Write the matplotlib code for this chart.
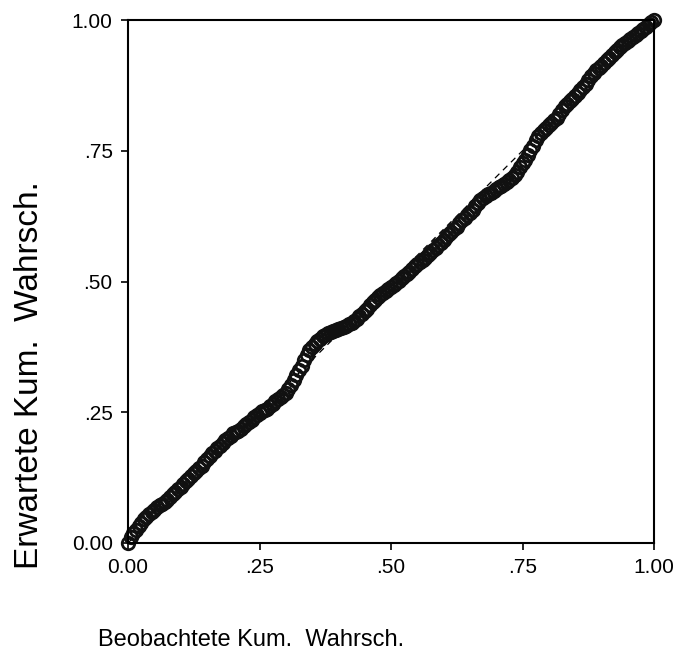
import matplotlib
matplotlib.use("Agg")
import matplotlib.pyplot as plt

plt.rcParams['font.family'] = ['Liberation Sans', 'DejaVu Sans']

# observed cumulative probability
beobachtet = [
    0.000, 0.005, 0.010, 0.015, 0.020, 0.025, 0.030, 0.035, 0.040, 0.045,
    0.050, 0.055, 0.060, 0.065, 0.070, 0.075, 0.080, 0.085, 0.090, 0.095,
    0.100, 0.105, 0.110, 0.115, 0.120, 0.125, 0.130, 0.135, 0.140, 0.145,
    0.150, 0.155, 0.160, 0.165, 0.170, 0.175, 0.180, 0.185, 0.190, 0.195,
    0.200, 0.205, 0.210, 0.215, 0.220, 0.225, 0.230, 0.235, 0.240, 0.245,
    0.250, 0.255, 0.260, 0.265, 0.270, 0.275, 0.280, 0.285, 0.290, 0.295,
    0.300, 0.305, 0.310, 0.315, 0.320, 0.325, 0.330, 0.335, 0.340, 0.345,
    0.350, 0.355, 0.360, 0.365, 0.370, 0.375, 0.380, 0.385, 0.390, 0.395,
    0.400, 0.405, 0.410, 0.415, 0.420, 0.425, 0.430, 0.435, 0.440, 0.445,
    0.450, 0.455, 0.460, 0.465, 0.470, 0.475, 0.480, 0.485, 0.490, 0.495,
    0.500, 0.505, 0.510, 0.515, 0.520, 0.525, 0.530, 0.535, 0.540, 0.545,
    0.550, 0.555, 0.560, 0.565, 0.570, 0.575, 0.580, 0.585, 0.590, 0.595,
    0.600, 0.605, 0.610, 0.615, 0.620, 0.625, 0.630, 0.635, 0.640, 0.645,
    0.650, 0.655, 0.660, 0.665, 0.670, 0.675, 0.680, 0.685, 0.690, 0.695,
    0.700, 0.705, 0.710, 0.715, 0.720, 0.725, 0.730, 0.735, 0.740, 0.745,
    0.750, 0.755, 0.760, 0.765, 0.770, 0.775, 0.780, 0.785, 0.790, 0.795,
    0.800, 0.805, 0.810, 0.815, 0.820, 0.825, 0.830, 0.835, 0.840, 0.845,
    0.850, 0.855, 0.860, 0.865, 0.870, 0.875, 0.880, 0.885, 0.890, 0.895,
    0.900, 0.905, 0.910, 0.915, 0.920, 0.925, 0.930, 0.935, 0.940, 0.945,
    0.950, 0.955, 0.960, 0.965, 0.970, 0.975, 0.980, 0.985, 0.990, 0.995,
    1.000,
]

# expected cumulative probability
erwartet = [
    0.000, 0.012, 0.019, 0.025, 0.032, 0.039, 0.045, 0.050, 0.055, 0.059,
    0.064, 0.068, 0.072, 0.075, 0.079, 0.083, 0.088, 0.093, 0.098, 0.103,
    0.108, 0.113, 0.118, 0.123, 0.128, 0.133, 0.138, 0.143, 0.148, 0.154,
    0.161, 0.167, 0.172, 0.176, 0.181, 0.186, 0.191, 0.196, 0.201, 0.205,
    0.210, 0.213, 0.215, 0.218, 0.223, 0.228, 0.232, 0.236, 0.240, 0.244,
    0.248, 0.252, 0.254, 0.257, 0.261, 0.266, 0.271, 0.276, 0.280, 0.283,
    0.287, 0.294, 0.302, 0.311, 0.321, 0.330, 0.339, 0.349, 0.360, 0.369,
    0.375, 0.381, 0.386, 0.391, 0.395, 0.398, 0.401, 0.403, 0.405, 0.407,
    0.409, 0.411, 0.413, 0.415, 0.418, 0.420, 0.424, 0.429, 0.434, 0.438,
    0.443, 0.448, 0.455, 0.460, 0.465, 0.470, 0.474, 0.478, 0.482, 0.486,
    0.490, 0.494, 0.498, 0.501, 0.506, 0.510, 0.514, 0.519, 0.524, 0.529,
    0.534, 0.538, 0.542, 0.545, 0.550, 0.555, 0.560, 0.565, 0.569, 0.574,
    0.579, 0.585, 0.590, 0.595, 0.600, 0.605, 0.611, 0.617, 0.622, 0.627,
    0.631, 0.637, 0.644, 0.650, 0.656, 0.660, 0.664, 0.667, 0.670, 0.673,
    0.677, 0.680, 0.683, 0.686, 0.690, 0.694, 0.698, 0.703, 0.710, 0.718,
    0.726, 0.733, 0.741, 0.752, 0.760, 0.770, 0.778, 0.784, 0.789, 0.794,
    0.799, 0.803, 0.808, 0.813, 0.820, 0.828, 0.835, 0.840, 0.845, 0.849,
    0.854, 0.860, 0.866, 0.871, 0.878, 0.885, 0.892, 0.899, 0.904, 0.908,
    0.913, 0.918, 0.923, 0.928, 0.933, 0.938, 0.943, 0.948, 0.952, 0.956,
    0.960, 0.964, 0.967, 0.971, 0.975, 0.979, 0.983, 0.987, 0.992, 0.996,
    1.000,
]

tick_pos = [0.0, 0.25, 0.5, 0.75, 1.0]
tick_labels = ["0.00", ".25", ".50", ".75", "1.00"]

fig = plt.figure(figsize=(6.77, 6.59), dpi=100)
ax = fig.add_axes([128 / 677, 1 - 543 / 659, 526 / 677, 523 / 659])

# diagonal reference line
ax.plot([0, 1], [0, 1], color='black', lw=0.9, ls=(0, (5, 4)), zorder=1)
ax.plot(beobachtet, erwartet, ls='none', marker='o', markersize=9,
        markerfacecolor='none', markeredgecolor='#111111', markeredgewidth=2.0,
        zorder=2, clip_on=False)

ax.set_xlim(0, 1)
ax.set_ylim(0, 1)
ax.set_xticks(tick_pos)
ax.set_xticklabels(tick_labels)
ax.set_yticks(tick_pos)
ax.set_yticklabels(tick_labels)
ax.tick_params(direction='out', length=5, width=1.2, labelsize=15, pad=6)
for s in ax.spines.values():
    s.set_linewidth(1.5)

fig.text(251 / 677, 1 - 640 / 659, "Beobachtete Kum.  Wahrsch.",
         ha='center', va='center', fontsize=17)
fig.text(30 / 677, 1 - 375 / 659, "Erwartete Kum.  Wahrsch.",
         ha='center', va='center', rotation=90, fontsize=24)

fig.savefig("out.png", dpi=100)
